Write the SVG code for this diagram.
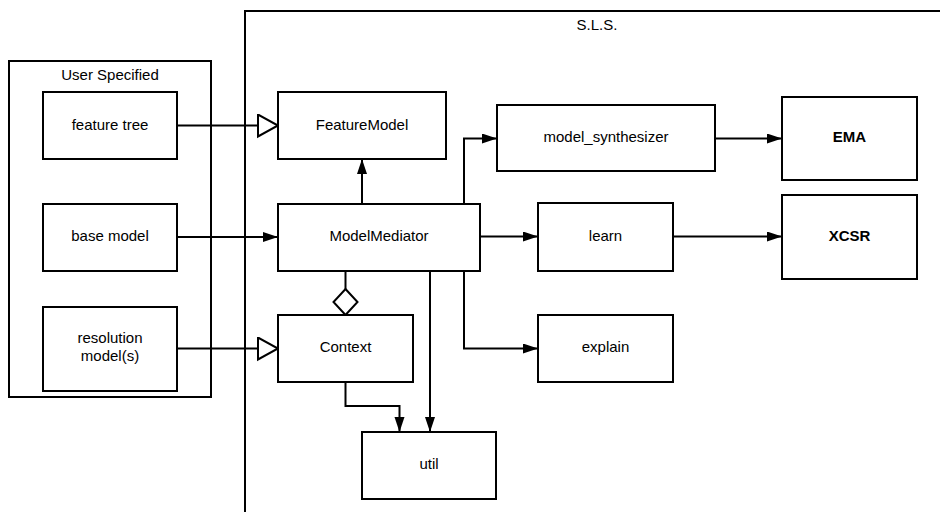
<svg xmlns="http://www.w3.org/2000/svg" width="940" height="512" viewBox="0 0 940 512">
<defs>
<style>
.box{fill:#fff;stroke:#000;stroke-width:2}
.cont{fill:none;stroke:#000;stroke-width:2}
.t{font-family:"Liberation Sans",Arial,sans-serif;font-size:15px;fill:#000;text-anchor:middle}
.b{font-weight:bold}
.c{fill:none;stroke:#000;stroke-width:2}
</style>
<marker id="arr" markerUnits="userSpaceOnUse" markerWidth="16" markerHeight="12" refX="15" refY="5" orient="auto">
<path d="M0,0 L15,5 L0,10 Z" fill="#000"/>
</marker>
<marker id="tri" markerUnits="userSpaceOnUse" markerWidth="24" markerHeight="26" refX="21" refY="12" orient="auto">
<path d="M1,1 L21,12 L1,23 Z" fill="#fff" stroke="#000" stroke-width="2"/>
</marker>
<marker id="dia" markerUnits="userSpaceOnUse" markerWidth="30" markerHeight="30" refX="27" refY="14" orient="auto">
<path d="M1,14 L14,2 L27,14 L14,26 Z" fill="#fff" stroke="#000" stroke-width="2"/>
</marker>
</defs>

<g id="sls">
<path class="cont" d="M245,512 L245,11 L945,11"/>
<text class="t" x="597" y="30">S.L.S.</text>
</g>

<g id="user-specified">
<rect class="cont" x="9" y="61" width="202" height="336"/>
<text class="t" x="110" y="80">User Specified</text>
</g>

<g id="connectors">
<path class="c" d="M177,125.5 L278,125.5" marker-end="url(#tri)"/>
<path class="c" d="M177,237 L278,237" marker-end="url(#arr)"/>
<path class="c" d="M177,348.5 L278,348.5" marker-end="url(#tri)"/>
<path class="c" d="M362,204 L362,159" marker-end="url(#arr)"/>
<path class="c" d="M464,204 L464,138.5 L497,138.5" marker-end="url(#arr)"/>
<path class="c" d="M715,138.5 L782,138.5" marker-end="url(#arr)"/>
<path class="c" d="M480,236.5 L538,236.5" marker-end="url(#arr)"/>
<path class="c" d="M673,236.5 L782,236.5" marker-end="url(#arr)"/>
<path class="c" d="M464,271 L464,348.5 L538,348.5" marker-end="url(#arr)"/>
<path class="c" d="M430,271 L430,432" marker-end="url(#arr)"/>
<path class="c" d="M345.5,382 L345.5,406 L399.5,406 L399.5,432" marker-end="url(#arr)"/>
<path class="c" d="M345.5,271 L345.5,315" marker-end="url(#dia)"/>
</g>

<g id="feature-tree">
<rect class="box" x="43" y="92" width="134" height="67"/>
<text class="t" x="110" y="129.5">feature tree</text>
</g>
<g id="base-model">
<rect class="box" x="43" y="204" width="134" height="67"/>
<text class="t" x="110" y="240.5">base model</text>
</g>
<g id="resolution-models">
<rect class="box" x="43" y="307" width="134" height="84"/>
<text class="t" x="110" y="343">resolution</text>
<text class="t" x="110" y="361">model(s)</text>
</g>
<g id="FeatureModel">
<rect class="box" x="278" y="92" width="168" height="67"/>
<text class="t" x="362" y="129.5">FeatureModel</text>
</g>
<g id="ModelMediator">
<rect class="box" x="278" y="204" width="202" height="67"/>
<text class="t" x="379" y="240.5">ModelMediator</text>
</g>
<g id="Context">
<rect class="box" x="278" y="315" width="135" height="67"/>
<text class="t" x="345.5" y="352">Context</text>
</g>
<g id="util">
<rect class="box" x="362" y="432" width="134" height="67"/>
<text class="t" x="429" y="469">util</text>
</g>
<g id="model_synthesizer">
<rect class="box" x="497" y="105" width="218" height="66"/>
<text class="t" x="606" y="142">model_synthesizer</text>
</g>
<g id="learn">
<rect class="box" x="538" y="203" width="135" height="68"/>
<text class="t" x="605.5" y="240.5">learn</text>
</g>
<g id="explain">
<rect class="box" x="538" y="315" width="135" height="67"/>
<text class="t" x="605.5" y="352">explain</text>
</g>
<g id="EMA">
<rect class="box" x="782" y="97" width="135" height="83"/>
<text class="t b" x="849.5" y="142">EMA</text>
</g>
<g id="XCSR">
<rect class="box" x="782" y="195" width="135" height="84"/>
<text class="t b" x="849.5" y="241">XCSR</text>
</g>
</svg>
